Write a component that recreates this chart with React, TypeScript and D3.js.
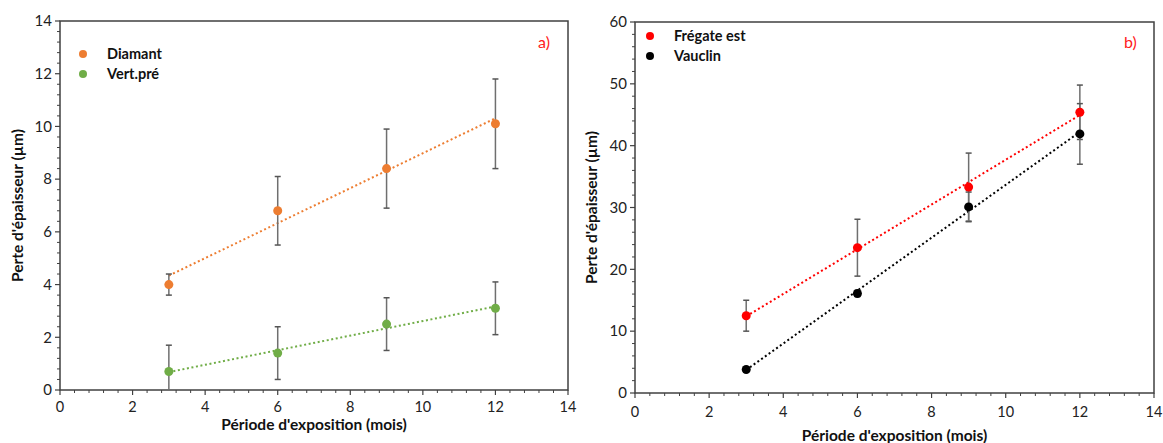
import React from "react";
import * as d3 from "d3";

const months = [3, 6, 9, 12];
const xTicks = [0, 2, 4, 6, 8, 10, 12, 14];

const diamant = [4.0, 6.8, 8.4, 10.1];
const diamantErr = [0.4, 1.3, 1.5, 1.7];
const vertPre = [0.7, 1.4, 2.5, 3.1];
const vertPreErr = [1.0, 1.0, 1.0, 1.0];
const leftYTicks = [0, 2, 4, 6, 8, 10, 12, 14];

const fregate = [12.5, 23.5, 33.3, 45.4];
const fregateErr = [2.5, 4.6, 5.5, 4.4];
const vauclin = [3.8, 16.1, 30.1, 41.9];
const vauclinErr = [0.3, 0.5, 2.4, 4.9];
const rightYTicks = [0, 10, 20, 30, 40, 50, 60];

const FONT = "Lato, 'Open Sans', sans-serif";

type Series = { name: string; color: string; values: number[]; errs: number[] };

function fit(xs: number[], ys: number[]) {
  const mx = d3.mean(xs)!;
  const my = d3.mean(ys)!;
  let sxy = 0, sxx = 0;
  xs.forEach((x, i) => { sxy += (x - mx) * (ys[i] - my); sxx += (x - mx) * (x - mx); });
  const b = sxy / sxx;
  const a = my - b * mx;
  return (x: number) => a + b * x;
}

function Panel(props: {
  id: string;
  left: number; right: number; top: number; bottom: number;
  yMax: number; yTicks: number[]; yMinor: number;
  series: Series[];
  label: string; labelX: number; labelY: number;
  legendX: number; legendY: number; legendGap: number;
  yTitleX: number; xTitleY: number; xTickY: number;
}) {
  const { left, right, top, bottom } = props;
  const x = d3.scaleLinear().domain([0, 14]).range([left, right]);
  const y = d3.scaleLinear().domain([0, props.yMax]).range([bottom, top]);
  const xMinor = d3.range(0, 14.0001, 0.4).filter((v) => Math.abs(v / 2 - Math.round(v / 2)) > 1e-6);
  const yMinor = d3.range(0, props.yMax + 1e-6, props.yMinor).filter(
    (v) => !props.yTicks.some((t) => Math.abs(t - v) < 1e-6)
  );
  const axisColor = "#404040";
  return (
    <g>
      <defs>
        <clipPath id={"clip-" + props.id}>
          <rect x={left} y={top} width={right - left} height={bottom - top} />
        </clipPath>
      </defs>
      <rect x={left} y={top} width={right - left} height={bottom - top} fill="none" stroke={axisColor} strokeWidth={1.5} />
      {props.yTicks.map((t) => (
        <g key={"yt" + t}>
          <line x1={left - 5} x2={left} y1={y(t)} y2={y(t)} stroke={axisColor} strokeWidth={1.2} />
          <text x={left - 8} y={y(t)} dy="0.35em" textAnchor="end" fontSize={15} fontFamily={FONT} fill="#222">{t}</text>
        </g>
      ))}
      {yMinor.map((t) => (
        <line key={"ym" + t} x1={left - 3} x2={left} y1={y(t)} y2={y(t)} stroke={axisColor} strokeWidth={1} />
      ))}
      {xTicks.map((t) => (
        <g key={"xt" + t}>
          <line x1={x(t)} x2={x(t)} y1={bottom} y2={bottom + 5} stroke={axisColor} strokeWidth={1.2} />
          <text x={x(t)} y={props.xTickY} textAnchor="middle" fontSize={14.5} fontFamily={FONT} fill="#222">{t}</text>
        </g>
      ))}
      {xMinor.map((t) => (
        <line key={"xm" + t} x1={x(t)} x2={x(t)} y1={bottom} y2={bottom + 3} stroke={axisColor} strokeWidth={1} />
      ))}
      <text
        transform={`translate(${props.yTitleX},${(top + bottom) / 2}) rotate(-90)`}
        textAnchor="middle" fontSize={15.5} fontWeight="bold" fontFamily={FONT} fill="#111"
      >
        Perte d'épaisseur (µm)
      </text>
      <text x={(left + right) / 2} y={props.xTitleY} textAnchor="middle" fontSize={15.5} fontWeight="bold" fontFamily={FONT} fill="#111">
        Période d'exposition (mois)
      </text>
      <g clipPath={`url(#clip-${props.id})`}>
        {props.series.map((s) => {
          const f = fit(months, s.values);
          const d = d3.line<number>().x((m) => x(m)).y((m) => y(f(m)))([3, 12]) || "";
          return (
            <path key={"tr" + s.name} d={d} fill="none" stroke={s.color} strokeWidth={2} strokeDasharray="2,2.6" />
          );
        })}
        {props.series.map((s) =>
          months.map((m, i) => {
            const lo = s.values[i] - s.errs[i];
            const hi = s.values[i] + s.errs[i];
            return (
              <g key={"eb" + s.name + m} stroke="#6f6f6f" strokeWidth={1.5}>
                <line x1={x(m)} x2={x(m)} y1={y(lo)} y2={y(hi)} />
                <line x1={x(m) - 3} x2={x(m) + 3} y1={y(lo)} y2={y(lo)} stroke="#555" />
                <line x1={x(m) - 3} x2={x(m) + 3} y1={y(hi)} y2={y(hi)} stroke="#555" />
              </g>
            );
          })
        )}
        {props.series.map((s) =>
          months.map((m, i) => (
            <circle key={"pt" + s.name + m} cx={x(m)} cy={y(s.values[i])} r={4.5} fill={s.color} />
          ))
        )}
      </g>
      {props.series.map((s, i) => (
        <g key={"lg" + s.name}>
          <circle cx={props.legendX} cy={props.legendY + i * props.legendGap} r={4} fill={s.color} />
          <text x={props.legendX + 24} y={props.legendY + i * props.legendGap} dy="0.35em" fontSize={14.5} fontWeight="bold" fontFamily={FONT} fill="#111">
            {s.name}
          </text>
        </g>
      ))}
      <text x={props.labelX} y={props.labelY} dy="0.35em" fontSize={16} fontFamily={FONT} fill="#ff2020">{props.label}</text>
    </g>
  );
}

export default function App() {
  const leftSeries: Series[] = [
    { name: "Diamant", color: "#ED7D31", values: diamant, errs: diamantErr },
    { name: "Vert.pré", color: "#70AD47", values: vertPre, errs: vertPreErr },
  ];
  const rightSeries: Series[] = [
    { name: "Frégate est", color: "#FF0000", values: fregate, errs: fregateErr },
    { name: "Vauclin", color: "#000000", values: vauclin, errs: vauclinErr },
  ];
  return (
    <div style={{ position: "absolute", left: 0, top: 0 }}>
      <svg width={1163} height={443} style={{ display: "block", background: "#fff" }}>
        <Panel
          id="a" left={60} right={568} top={21} bottom={390}
          yMax={14} yTicks={leftYTicks} yMinor={0.4}
          series={leftSeries}
          label="a)" labelX={538} labelY={42}
          legendX={83} legendY={54} legendGap={20}
          yTitleX={23} xTitleY={430} xTickY={412}
        />
        <Panel
          id="b" left={635} right={1154} top={22} bottom={393}
          yMax={60} yTicks={rightYTicks} yMinor={2}
          series={rightSeries}
          label="b)" labelX={1124} labelY={42}
          legendX={650} legendY={36} legendGap={20}
          yTitleX={597} xTitleY={441} xTickY={417}
        />
      </svg>
    </div>
  );
}
